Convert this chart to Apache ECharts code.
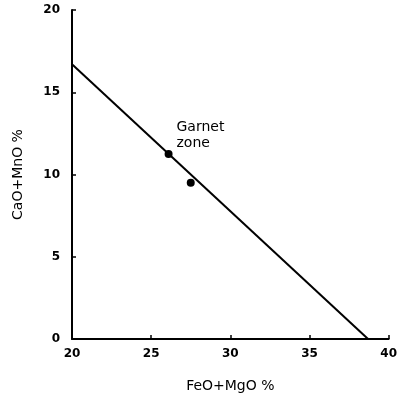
<!DOCTYPE html>
<html>
<head>
<meta charset="utf-8">
<script src="https://cdn.jsdelivr.net/npm/echarts@6/dist/echarts.min.js"></script>
<style>
html, body { margin: 0; padding: 0; background: #fff; }
#chart_garnet { width: 400px; height: 400px; }
</style>
</head>
<body>
<div id="chart_garnet"></div>
<script>
// 拟合线两端 (FeO+MgO, CaO+MnO)
var lineX = [20, 38.7];
var lineY = [16.7, 0];
// 样品点
var pointX = [26.1, 27.5];
var pointY = [11.25, 9.5];
// 标注
var noteText = 'Garnet\nzone';
var notePos = [26.6, 12.4];

var xTicks = [20, 25, 30, 35, 40];
var yTicks = [0, 5, 10, 15, 20];

var lineData = [];
for (var i = 0; i < lineX.length; i++) {
	lineData.push([lineX[i], lineY[i]]);
}
var pointData = [];
for (var j = 0; j < pointX.length; j++) {
	pointData.push([pointX[j], pointY[j]]);
}

var fontName = 'DejaVu Sans';

var option_garnet = {
	animation: false,
	grid: {
		left: 72,
		right: 5,
		top: 10,
		bottom: 61
	},
	xAxis: {
		type: 'value',
		min: xTicks[0],
		max: xTicks[xTicks.length - 1],
		interval: 5,
		name: 'FeO+MgO %',
		nameLocation: 'middle',
		nameGap: 40,
		nameTextStyle: {
			fontFamily: fontName,
			fontSize: 14,
			color: '#000'
		},
		axisLine: {
			onZero: false,
			lineStyle: { color: '#000', width: 2 }
		},
		axisTick: {
			inside: true,
			length: 4,
			lineStyle: { color: '#000', width: 1.5 }
		},
		axisLabel: {
			fontFamily: fontName,
			fontWeight: 'bold',
			fontSize: 12,
			color: '#000',
			margin: 9
		},
		splitLine: { show: false }
	},
	yAxis: {
		type: 'value',
		min: yTicks[0],
		max: yTicks[yTicks.length - 1],
		interval: 5,
		name: 'CaO+MnO %',
		nameLocation: 'middle',
		nameGap: 47,
		nameTextStyle: {
			fontFamily: fontName,
			fontSize: 14,
			color: '#000'
		},
		axisLine: {
			onZero: false,
			lineStyle: { color: '#000', width: 2 }
		},
		axisTick: {
			inside: true,
			length: 4,
			lineStyle: { color: '#000', width: 1.5 }
		},
		axisLabel: {
			fontFamily: fontName,
			fontWeight: 'bold',
			fontSize: 12,
			color: '#000',
			margin: 12
		},
		splitLine: { show: false }
	},
	series: [{
		type: 'line',
		data: lineData,
		symbol: 'none',
		lineStyle: { color: '#000', width: 2 },
		markPoint: {
			symbol: 'circle',
			symbolSize: 0,
			label: {
				show: true,
				formatter: noteText,
				fontFamily: fontName,
				fontSize: 14,
				lineHeight: 16,
				color: '#000',
				align: 'left'
			},
			data: [{ coord: notePos }]
		}
	}, {
		type: 'scatter',
		data: pointData,
		symbol: 'circle',
		symbolSize: 8,
		itemStyle: { color: '#000', opacity: 1 }
	}]
};
var garnetEchart = echarts.init(document.getElementById('chart_garnet'));
garnetEchart.setOption(option_garnet);
</script>
</body>
</html>
